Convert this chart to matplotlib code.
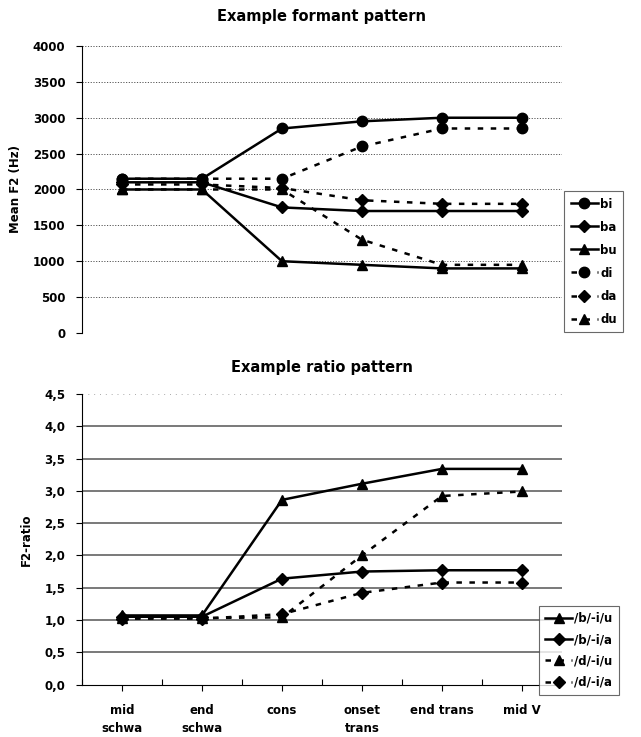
import matplotlib
matplotlib.use("Agg")
import matplotlib.pyplot as plt
import numpy as np

plt.rcParams['font.family'] = ['DejaVu Sans']
plt.rcParams['font.weight'] = 'bold'

categories = ["mid\nschwa", "end\nschwa", "cons", "onset\ntrans", "end trans", "mid V"]

# Top chart: mean F2 (Hz)
bi = [2150, 2150, 2850, 2950, 3000, 3000]
ba = [2100, 2100, 1750, 1700, 1700, 1700]
bu = [2000, 2000, 1000, 950, 900, 900]
di = [2150, 2150, 2150, 2600, 2850, 2850]
da = [2070, 2070, 2020, 1850, 1800, 1800]
du = [2000, 2000, 2000, 1300, 950, 950]
top_yticks = [0, 500, 1000, 1500, 2000, 2500, 3000, 3500, 4000]

# Bottom chart: F2-ratio
b_iu = [1.07, 1.07, 2.86, 3.11, 3.34, 3.34]
b_ia = [1.05, 1.05, 1.64, 1.75, 1.77, 1.77]
d_iu = [1.03, 1.03, 1.04, 2.00, 2.92, 2.99]
d_ia = [1.02, 1.02, 1.09, 1.42, 1.58, 1.58]
bot_yticks = [0.0, 0.5, 1.0, 1.5, 2.0, 2.5, 3.0, 3.5, 4.0, 4.5]
bot_yticklabels = ["0,0", "0,5", "1,0", "1,5", "2,0", "2,5", "3,0", "3,5", "4,0", "4,5"]

fig = plt.figure(figsize=(6.41, 7.37), dpi=100)
x = np.arange(len(categories))
dot = (0, (2.2, 3.0))
FS = 8.5

# ---------- Top ----------
ax1 = fig.add_axes([0.1279, 0.5482, 0.7488, 0.3894])
series_top = [
    (bi, 'o', '-', 'bi', 7.5),
    (ba, 'D', '-', 'ba', 6),
    (bu, '^', '-', 'bu', 7.5),
    (di, 'o', dot, 'di', 7.5),
    (da, 'D', dot, 'da', 6),
    (du, '^', dot, 'du', 7.5),
]
handles = []
for ys, m, ls, lab, ms in series_top:
    h, = ax1.plot(x, ys, color='black', linestyle=ls, linewidth=1.8,
                  marker=m, markersize=ms, markerfacecolor='black',
                  markeredgecolor='black', label=lab, zorder=3)
    handles.append(h)
ax1.set_xlim(-0.5, 5.5)
ax1.set_ylim(0, 4000)
ax1.set_yticks(top_yticks)
ax1.set_yticklabels([str(v) for v in top_yticks], fontsize=FS, fontweight='bold')
ax1.set_xticks([])
for v in top_yticks[1:]:
    ax1.axhline(v, color='#555555', linestyle=(0, (1.2, 1.6)), linewidth=0.7, zorder=1)
for s in ['top', 'right', 'bottom']:
    ax1.spines[s].set_visible(False)
ax1.spines['left'].set_linewidth(0.8)
ax1.tick_params(axis='y', length=4, width=0.8, pad=8)
ax1.set_ylabel("Mean F2 (Hz)", fontsize=FS, fontweight='bold', labelpad=8)
ax1.set_title("Example formant pattern", fontsize=10.5, fontweight='bold', pad=18)
leg1 = fig.legend(handles=handles, loc='upper left', bbox_to_anchor=(0.880, 0.7408),
                  fontsize=FS, frameon=True, fancybox=False, edgecolor='#444444',
                  handlelength=2.3, handletextpad=0.2, labelspacing=0.85,
                  borderpad=0.55, borderaxespad=0)
leg1.get_frame().set_linewidth(0.8)

# ---------- Bottom ----------
ax2 = fig.add_axes([0.1279, 0.0712, 0.7488, 0.3942])
series_bot = [
    (b_iu, '^', '-', '/b/-i/u', 7.5),
    (b_ia, 'D', '-', '/b/-i/a', 6),
    (d_iu, '^', dot, '/d/-i/u', 7.5),
    (d_ia, 'D', dot, '/d/-i/a', 6),
]
handles2 = []
for ys, m, ls, lab, ms in series_bot:
    h, = ax2.plot(x, ys, color='black', linestyle=ls, linewidth=1.8,
                  marker=m, markersize=ms, markerfacecolor='black',
                  markeredgecolor='black', label=lab, zorder=3)
    handles2.append(h)
ax2.set_xlim(-0.5, 5.5)
ax2.set_ylim(0, 4.5)
ax2.set_yticks(bot_yticks)
ax2.set_yticklabels(bot_yticklabels, fontsize=FS, fontweight='bold')
for v in bot_yticks[1:-1]:
    ax2.axhline(v, color='#555555', linestyle='-', linewidth=1.1, zorder=1)
ax2.axhline(4.5, color='#aaaaaa', linestyle=(0, (1, 5)), linewidth=0.7, zorder=1)
ax2.set_xticks(x)
ax2.set_xticklabels(categories, fontsize=FS, fontweight='bold', linespacing=1.5)
ax2.set_xticks(np.arange(-0.5, 6.0, 1.0), minor=True)
ax2.tick_params(axis='x', which='major', direction='out', length=4, width=0.8, pad=10)
ax2.tick_params(axis='x', which='minor', direction='in', length=4, width=0.8)
for s in ['top', 'right']:
    ax2.spines[s].set_visible(False)
ax2.spines['left'].set_linewidth(0.8)
ax2.spines['bottom'].set_linewidth(0.8)
ax2.tick_params(axis='y', length=4, width=0.8, pad=8)
ax2.set_ylabel("F2-ratio", fontsize=FS, fontweight='bold', labelpad=8)
ax2.set_title("Example ratio pattern", fontsize=10.5, fontweight='bold', pad=16)
leg2 = fig.legend(handles=handles2, loc='upper left', bbox_to_anchor=(0.841, 0.1777),
                  fontsize=FS, frameon=True, fancybox=False, edgecolor='#444444',
                  handlelength=2.3, handletextpad=0.2, labelspacing=0.7,
                  borderpad=0.5, borderaxespad=0)
leg2.get_frame().set_linewidth(0.8)

fig.savefig("out.png", dpi=100)
